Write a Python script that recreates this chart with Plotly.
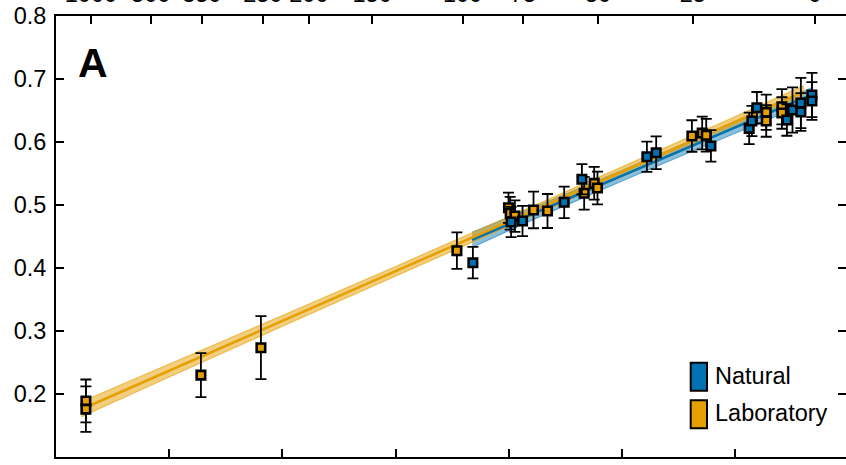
import plotly.graph_objects as go

# ---------------- data ----------------
# x = 10^6 / T^2 (K^-2), y = Delta47 value, err = 1 s.e. bar half-length
lab_x = [0.528, 0.528, 2.560, 3.620, 7.082, 7.993, 8.023, 8.106, 8.435, 8.682,
         9.330, 9.507, 9.565, 11.233, 11.415, 11.486, 12.546, 12.546, 12.823, 12.823]
lab_y = [0.189, 0.176, 0.230, 0.2735, 0.4275, 0.4957, 0.4868, 0.4825, 0.4921, 0.4905,
         0.5186, 0.5344, 0.5270, 0.6095, 0.6143, 0.6106, 0.6471, 0.6333, 0.6560, 0.6460]
lab_err = [0.034, 0.036, 0.035, 0.050, 0.029, 0.024, 0.026, 0.025, 0.029, 0.027,
           0.026, 0.026, 0.026, 0.025, 0.026, 0.026, 0.028, 0.025, 0.028, 0.025]

nat_x = [7.364, 8.040, 8.241, 8.977, 9.290, 10.438, 10.602, 11.569, 12.245, 12.293,
         12.381, 12.911, 13.010, 13.158, 13.158, 13.353, 13.353]
nat_y = [0.4084, 0.4730, 0.4746, 0.5043, 0.5408, 0.5767, 0.5830, 0.5937, 0.6217, 0.6333,
         0.6544, 0.6349, 0.6508, 0.6619, 0.6476, 0.6746, 0.6650]
nat_err = [0.025, 0.024, 0.024, 0.025, 0.024, 0.024, 0.026, 0.025, 0.025, 0.024,
           0.025, 0.025, 0.036, 0.040, 0.030, 0.035, 0.030]

# regression lines and their confidence half-widths
lab_fit_x = [0.45, 2.0, 4.0, 6.0, 8.0, 10.0, 12.0, 13.2]
lab_fit_y = [0.1758, 0.2370, 0.3160, 0.3950, 0.4740, 0.5530, 0.6320, 0.6794]
lab_fit_ci = [0.012, 0.010, 0.0085, 0.0075, 0.0072, 0.0075, 0.0085, 0.0095]

nat_fit_x = [7.35, 8.5, 10.0, 11.5, 13.35]
nat_fit_y = [0.4448, 0.4890, 0.5466, 0.6042, 0.6752]
nat_fit_ci = [0.012, 0.0095, 0.0085, 0.0090, 0.011]

# top axis: temperature in degC
top_temps = [1000, 500, 350, 250, 200, 150, 100, 75, 50, 25, 0]
top_labels = [str(t) for t in top_temps]

bottom_ticks = [0, 2, 4, 6, 8, 10, 12, 14]
y_ticks = [0.1, 0.2, 0.3, 0.4, 0.5, 0.6, 0.7, 0.8]
y_labels = ["0.1", "0.2", "0.3", "0.4", "0.5", "0.6", "0.7", "0.8"]

legend_names = ["Natural", "Laboratory"]

# ---------------- style ----------------
BLUE = "#0072B2"
ORANGE = "#E69F00"
FONT = "Liberation Sans, Arial, sans-serif"
FS = 23.5
W, H = 846, 465
ML, MR, MT, MB = 56, 0, 16, 8
PX_PER_UNIT = 56.61
XMAX = (W - ML - MR) / PX_PER_UNIT

def px2paper(px, py):
    return (px - ML) / (W - ML - MR), (H - MB - py) / (H - MT - MB)

fig = go.Figure()

def band(xs, ys, ci, color_fill, color_edge):
    up = [y + c for y, c in zip(ys, ci)]
    lo = [y - c for y, c in zip(ys, ci)]
    fig.add_trace(go.Scatter(x=xs + xs[::-1], y=up + lo[::-1], fill="toself",
                             fillcolor=color_fill, line=dict(color=color_edge, width=1.2),
                             mode="lines", hoverinfo="skip", showlegend=False))

band(nat_fit_x, nat_fit_y, nat_fit_ci, "rgba(0,114,178,0.45)", "rgba(0,114,178,0.5)")
band(lab_fit_x, lab_fit_y, lab_fit_ci, "rgba(230,159,0,0.5)", "rgba(230,159,0,0.6)")

fig.add_trace(go.Scatter(x=nat_fit_x, y=nat_fit_y, mode="lines",
                         line=dict(color=BLUE, width=2.5), showlegend=False))
fig.add_trace(go.Scatter(x=lab_fit_x, y=lab_fit_y, mode="lines",
                         line=dict(color=ORANGE, width=2.5), showlegend=False))

def pts(xs, ys, es, color, name):
    fig.add_trace(go.Scatter(
        x=xs, y=ys, mode="markers", name=name, showlegend=False,
        marker=dict(symbol="square", size=8.5, color=color, line=dict(color="black", width=2.6)),
        error_y=dict(type="data", array=es, color="black", thickness=1.8, width=5.5)))

pts(lab_x, lab_y, lab_err, ORANGE, "Laboratory")
pts(nat_x, nat_y, nat_err, BLUE, "Natural")

# top axis positions (10^6/T^2 for the labelled temperatures)
top_vals = [1e6 / (t + 273.15) ** 2 for t in top_temps]

axis_common = dict(showgrid=False, zeroline=False, showline=True, linecolor="black",
                   linewidth=2, ticks="inside", ticklen=8, tickwidth=1.5, tickcolor="black",
                   automargin=False)

fig.update_layout(
    width=W, height=H, margin=dict(l=ML, r=MR, t=MT, b=MB, autoexpand=False),
    plot_bgcolor="white", paper_bgcolor="white", showlegend=False,
    font=dict(family=FONT, color="black", size=FS),
    xaxis=dict(range=[0, XMAX], tickvals=bottom_ticks, showticklabels=False, **axis_common),
    xaxis2=dict(range=[0, XMAX], overlaying="x", side="top", tickvals=top_vals,
                ticktext=top_labels, tickfont=dict(size=FS), ticklabelstandoff=3,
                **axis_common),
    yaxis=dict(range=[0.1, 0.8], tickvals=y_ticks, ticktext=y_labels,
               tickfont=dict(size=FS), ticklabelstandoff=3, **axis_common),
    yaxis2=dict(range=[0.1, 0.8], overlaying="y", side="right", tickvals=y_ticks,
                showticklabels=False, showgrid=False, zeroline=False, showline=False,
                ticks="inside", ticklen=8, tickwidth=1.5, tickcolor="black",
                automargin=False),
)

# make xaxis2 / yaxis2 render
fig.add_trace(go.Scatter(x=[None], y=[None], xaxis="x2", yaxis="y2", showlegend=False))

# panel letter
ax, ay = px2paper(76, 38)
fig.add_annotation(x=ax, y=ay, xref="paper", yref="paper", text="<b>A</b>",
                   showarrow=False, xanchor="left", yanchor="top",
                   font=dict(size=41, family=FONT, color="black"))

# custom legend
for i, (name, col) in enumerate(zip(legend_names, [BLUE, ORANGE])):
    top = 362.7 + i * 37.5
    x0, y1 = px2paper(690.7, top)
    x1, y0 = px2paper(707, top + 28)
    fig.add_shape(type="rect", xref="paper", yref="paper", x0=x0, x1=x1, y0=y0, y1=y1,
                  fillcolor=col, line=dict(color="black", width=2))
    tx, ty = px2paper(713, top + 13)
    fig.add_annotation(x=tx, y=ty, xref="paper", yref="paper", text=name, showarrow=False,
                       xanchor="left", yanchor="middle",
                       font=dict(size=FS, family=FONT, color="black"))

fig.write_html("out.html")
